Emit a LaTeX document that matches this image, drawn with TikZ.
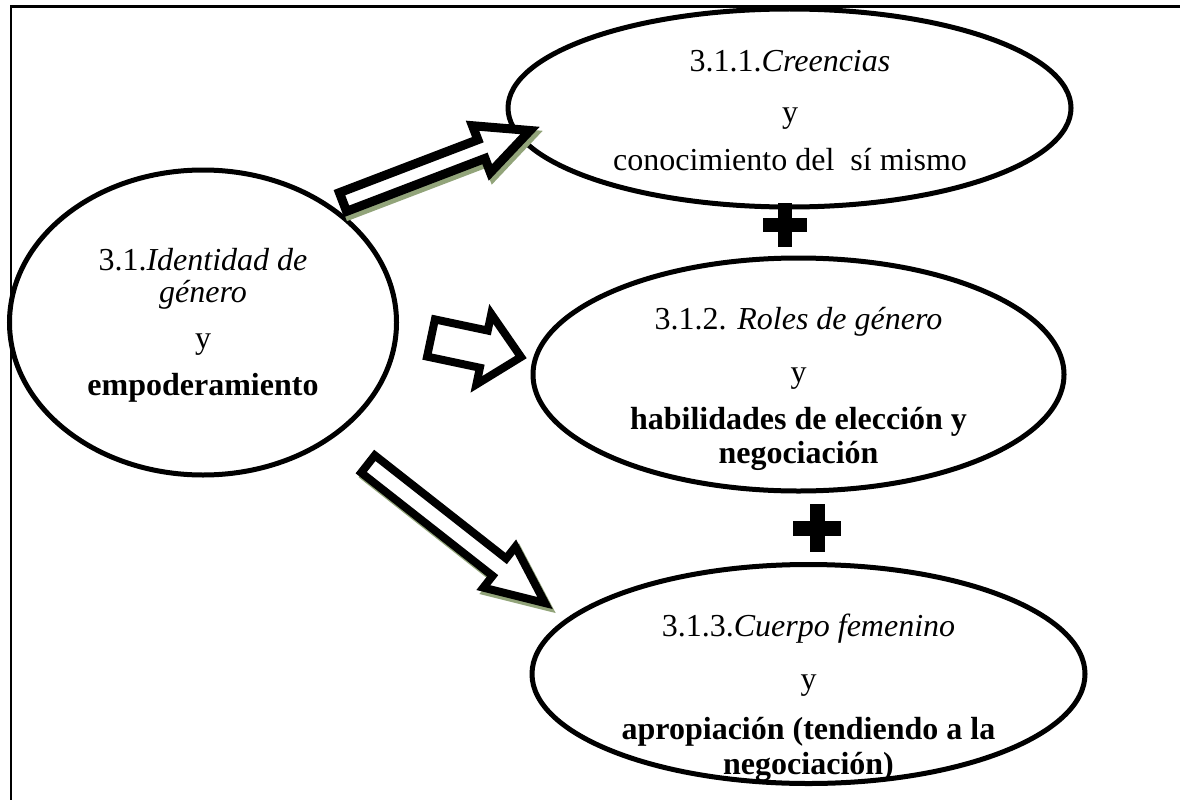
\documentclass[tikz,border=0pt]{standalone}
\usepackage{fontspec}
\setmainfont{Liberation Serif}
\usetikzlibrary{calc,shapes.geometric}
\definecolor{shadowgreen}{RGB}{146,164,122}
\tikzset{
  ell/.style={shape=ellipse, draw=black, line width=5pt, inner sep=0pt},
  txt/.style={anchor=base, inner sep=0pt, font=\fontsize{32}{38}\selectfont},
  shaftline/.style={line join=miter, miter limit=10}
}
% #1 tail, #2 tip, #3 head base, #4 shaft half width, #5 head half width, #6 options
\newcommand\blockarrow[6]{%
  \fill[white] ($(#1)!#4!90:(#2)$) -- ($(#3)!#4!-90:(#1)$) -- ($(#3)!#5!-90:(#1)$) -- (#2)
     -- ($(#3)!#5!90:(#1)$) -- ($(#3)!#4!90:(#1)$) -- ($(#1)!#4!-90:(#2)$) -- cycle;
  \draw[shaftline,#6] ($(#1)!#4!90:(#2)$) -- ($(#3)!#4!-90:(#1)$) -- ($(#3)!#5!-90:(#1)$) -- (#2)
     -- ($(#3)!#5!90:(#1)$) -- ($(#3)!#4!90:(#1)$) -- ($(#1)!#4!-90:(#2)$) -- cycle;
}
\newcommand\plussign[3]{% center, half arm, half bar
  \fill[black] ($(#1)+(-#2,-#3)$) rectangle ($(#1)+(#2,#3)$);
  \fill[black] ($(#1)+(-#3,-#2)$) rectangle ($(#1)+(#3,#2)$);
}
\begin{document}
\begin{tikzpicture}[x=1pt,y=-1pt]
\useasboundingbox (0,0) rectangle (1180,800);
% frame
\draw[line width=2.5pt] (11,800) -- (11,6.5) -- (1180,6.5);

% ellipses
\node[ell, minimum width=563pt, minimum height=198pt] (top) at (789.5,108) {};
\node[ell, minimum width=387pt, minimum height=305pt] (left) at (203,322.5) {};
\node[ell, minimum width=531pt, minimum height=233pt] (mid) at (798.5,374.5) {};
\node[ell, minimum width=553pt, minimum height=219pt] (bot) at (808.5,674) {};

% texts
\node[txt] (t1) at (790,71) {3.1.1.\textit{Creencias}};
\node[txt] (t2) at (790,122) {y};
\node[txt] (t3) at (790,170) {conocimiento del\ \ sí mismo};

\node[txt] (l1) at (203,270) {3.1.\textit{Identidad de}};
\node[txt] (l2) at (203,302) {\textit{género}};
\node[txt] (l3) at (203,348) {y};
\node[txt] (l4) at (203,395) {\textbf{empoderamiento}};

\node[txt] (m1) at (798.5,329) {3.1.2. \textit{Roles de género}};
\node[txt] (m2) at (798.5,382) {y};
\node[txt] (m3) at (798.5,429) {\textbf{habilidades de elección y}};
\node[txt] (m4) at (798.5,463) {\textbf{negociación}};

\node[txt] (b1) at (808.5,636) {3.1.3.\textit{Cuerpo femenino}};
\node[txt] (b2) at (808.5,689) {y};
\node[txt] (b3) at (808.5,739) {\textbf{apropiación (tendiendo a la}};
\node[txt] (b4) at (808.5,774) {\textbf{negociación)}};

% plus signs
\coordinate (p1) at (785,225);
\coordinate (p2) at (817,528);
\plussign{p1}{22}{7}
\plussign{p2}{24}{7.5}

% block arrows
\coordinate (a1t) at (343,202);
\coordinate (a1p) at (530,130.5);
\coordinate (a1b) at ($(a1p)!52pt!(a1t)$);
\coordinate (a2t) at (431,338);
\coordinate (a2p) at (521,357);
\coordinate (a2b) at ($(a2p)!38pt!(a2t)$);
\coordinate (a3t) at (368,464);
\coordinate (a3p) at (545,603);
\coordinate (a3b) at ($(a3p)!58pt!(a3t)$);

\blockarrow{a1t}{a1p}{a1b}{10pt}{25pt}{shadowgreen,line width=9pt,transform canvas={shift={(3pt,-4pt)}}}
\blockarrow{a1t}{a1p}{a1b}{10pt}{25pt}{black,line width=9pt}
\blockarrow{a2t}{a2p}{a2b}{19pt}{36pt}{black,line width=8pt}
\blockarrow{a3t}{a3p}{a3b}{11pt}{26pt}{shadowgreen,line width=8pt,transform canvas={shift={(3pt,-4pt)}}}
\blockarrow{a3t}{a3p}{a3b}{11pt}{26pt}{black,line width=8pt}
\end{tikzpicture}
\end{document}
